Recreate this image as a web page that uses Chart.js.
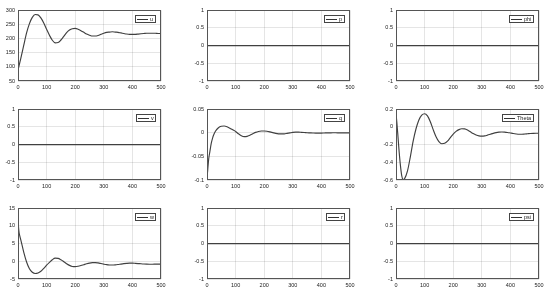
<!DOCTYPE html>
<html lang="en">
<head>
    <meta charset="UTF-8">
    <title>States</title>
    <script src="https://cdn.jsdelivr.net/npm/chart.js@4.4.0/dist/chart.umd.min.js"></script>
    <style>
        html, body { margin: 0; padding: 0; background: #fff; }
        body { width: 550px; height: 299px; position: relative; overflow: hidden; }
        canvas { position: absolute; }
    </style>
</head>
<body>
    <canvas id="c_u"></canvas>
    <canvas id="c_p"></canvas>
    <canvas id="c_phi"></canvas>
    <canvas id="c_v"></canvas>
    <canvas id="c_q"></canvas>
    <canvas id="c_theta"></canvas>
    <canvas id="c_w"></canvas>
    <canvas id="c_r"></canvas>
    <canvas id="c_psi"></canvas>

    <script>
        // time axes (s)
        const tZero = [0, 100, 200, 300, 400, 500];
        const tU = [0, 10, 20, 30, 40, 50, 60, 70, 80, 90, 100, 110, 120, 130, 140, 150, 160, 170, 180, 190, 200,
            210, 220, 230, 240, 250, 260, 270, 280, 290, 300, 310, 320, 330, 340, 350, 360, 370, 380, 390, 400,
            410, 420, 430, 440, 450, 460, 470, 480, 490, 500];
        const tQ = [0, 1, 3, 6, 10, 15, 20, 25, 30, 40, 50, 60, 70, 80, 90, 100, 110, 120, 130, 140, 150, 160, 170,
            180, 190, 200, 210, 220, 230, 240, 250, 260, 270, 280, 290, 300, 310, 320, 330, 340, 350, 360, 370,
            380, 390, 400, 410, 420, 430, 440, 450, 460, 470, 480, 490, 500];
        const tTheta = [0, 3, 6, 10, 15, 20, 25, 30, 40, 50, 60, 70, 80, 90, 100, 110, 120, 130, 140, 150, 160, 170,
            180, 190, 200, 210, 220, 230, 240, 250, 260, 270, 280, 290, 300, 310, 320, 330, 340, 350, 360, 370,
            380, 390, 400, 410, 420, 430, 440, 450, 460, 470, 480, 490, 500];
        const tW = [0, 2, 4, 6, 10, 20, 30, 40, 50, 60, 70, 80, 90, 100, 110, 120, 130, 140, 150, 160, 170,
            180, 190, 200, 210, 220, 230, 240, 250, 260, 270, 280, 290, 300, 310, 320, 330, 340, 350, 360, 370,
            380, 390, 400, 410, 420, 430, 440, 450, 460, 470, 480, 490, 500];

        // series
        const uVals = [88, 131, 176, 220, 253, 275, 285, 284, 273, 255, 233, 212, 194, 185, 186, 195, 208, 221, 230, 235, 236,
            233, 228, 222, 216, 212, 209, 209, 211, 215, 219, 222, 223, 224, 223, 222, 220, 218, 216, 215, 215,
            215, 216, 217, 218, 219, 219, 219, 219, 218, 218];
        const qVals = [0, -0.088, -0.075, -0.055, -0.04, -0.022, -0.01, -0.002, 0.004, 0.011, 0.014, 0.0145, 0.013, 0.01,
            0.0065, 0.003, -0.002, -0.006, -0.008, -0.0075, -0.005, -0.002, 0.001, 0.003, 0.004, 0.004, 0.0035, 0.002,
            0.0005, -0.001, -0.002, -0.0022, -0.002, -0.001, 0, 0.001, 0.0015, 0.0015, 0.0012, 0.0008, 0.0003, 0,
            -0.0003, -0.0005, -0.0005, -0.0004, -0.0002, 0, 0.0001, 0.0002, 0.0002, 0.0001, 0, 0, 0, 0];
        const thetaVals = [0.15, 0.05, -0.07, -0.24, -0.42, -0.55, -0.595, -0.585, -0.5, -0.34, -0.16, -0.02, 0.08, 0.135,
            0.15, 0.125, 0.06, -0.03, -0.11, -0.165, -0.19, -0.185, -0.16, -0.12, -0.08, -0.05, -0.03, -0.02, -0.022,
            -0.035, -0.055, -0.075, -0.09, -0.1, -0.103, -0.1, -0.092, -0.082, -0.072, -0.064, -0.059, -0.057, -0.058,
            -0.062, -0.068, -0.074, -0.079, -0.082, -0.082, -0.08, -0.077, -0.074, -0.072, -0.071, -0.071];
        const wVals = [12.5, 9.5, 8.0, 7.3, 6.0, 2.6, -0.2, -2.1, -3.1, -3.45, -3.3, -2.8, -2.0, -1.1, -0.3, 0.45, 0.9, 0.85,
            0.45, -0.1, -0.7, -1.15, -1.45, -1.5, -1.4, -1.2, -0.95, -0.7, -0.5, -0.38, -0.35, -0.45, -0.62, -0.8,
            -0.95, -1.03, -1.05, -1.0, -0.9, -0.78, -0.67, -0.58, -0.53, -0.53, -0.57, -0.63, -0.7, -0.76, -0.8,
            -0.82, -0.82, -0.8, -0.78, -0.8];
        const pVals = [0, 0, 0, 0, 0, 0];
        const phiVals = [0, 0, 0, 0, 0, 0];
        const vVals = [0, 0, 0, 0, 0, 0];
        const rVals = [0, 0, 0, 0, 0, 0];
        const psiVals = [0, 0, 0, 0, 0, 0];

        // y axis ranges [min, max, step]
        const yU = [50, 300, 50];
        const yUnit = [-1, 1, 0.5];
        const yQ = [-0.1, 0.05, 0.05];
        const yTheta = [-0.6, 0.2, 0.2];
        const yW = [-5, 15, 5];

        const FONT = { family: "'Liberation Sans', Arial, sans-serif", size: 5.5 };
        const colLeft = [18, 207, 396];
        const rowTop = [10, 109, 208];
        const PW = 143, PH = 71;
        const AX_W = 18, AX_H = 14, PAD_T = 6, PAD_R = 8;

        // box around axes + legend in the top right corner
        const boxLegend = {
            id: 'boxLegend',
            afterDatasetsDraw(chart) {
                const a = chart.chartArea;
                const c = chart.ctx;
                c.save();
                c.strokeStyle = '#555';
                c.lineWidth = 1;
                c.strokeRect(Math.round(a.left) + 0.5, Math.round(a.top) + 0.5,
                    Math.round(a.right - a.left) - 1, Math.round(a.bottom - a.top) - 1);

                const label = chart.data.datasets[0].label;
                c.font = FONT.size + 'px ' + FONT.family;
                const tw = c.measureText(label).width;
                const w = Math.round(2 + 11 + 2 + tw + 2.5);
                const h = 8;
                const x = Math.round(a.right - 5 - w);
                const y = Math.round(a.top + 5);
                c.fillStyle = '#fff';
                c.fillRect(x, y, w, h);
                c.strokeStyle = '#444';
                c.strokeRect(x + 0.5, y + 0.5, w - 1, h - 1);
                c.strokeStyle = '#333';
                c.beginPath();
                c.moveTo(x + 2, y + 4.5);
                c.lineTo(x + 13, y + 4.5);
                c.stroke();
                c.fillStyle = '#222';
                c.textBaseline = 'middle';
                c.fillText(label, x + 15, y + 4.5);
                c.restore();
            }
        };

        function plot(id, col, row, xs, ys, label, yr) {
            const el = document.getElementById(id);
            const W = AX_W + PW + PAD_R, H = PAD_T + PH + AX_H;
            el.width = W;
            el.height = H;
            el.style.left = (colLeft[col] - AX_W) + 'px';
            el.style.top = (rowTop[row] - PAD_T) + 'px';
            el.style.width = W + 'px';
            el.style.height = H + 'px';
            new Chart(el, {
                type: 'line',
                data: {
                    datasets: [{
                        label: label,
                        data: xs.map((x, i) => ({ x: x, y: ys[i] })),
                        borderColor: '#404040',
                        borderWidth: 1.15,
                        pointRadius: 0,
                        cubicInterpolationMode: 'monotone',
                        fill: false
                    }]
                },
                options: {
                    responsive: false,
                    animation: false,
                    devicePixelRatio: 1,
                    layout: { padding: { left: 0, top: PAD_T, right: PAD_R, bottom: 0 } },
                    plugins: { legend: { display: false }, tooltip: { enabled: false } },
                    scales: {
                        x: {
                            type: 'linear',
                            min: 0,
                            max: 500,
                            afterFit: s => { s.height = AX_H; },
                            grid: { color: 'rgba(0,0,0,0.1)', drawTicks: false },
                            border: { display: false },
                            ticks: { stepSize: 100, font: FONT, color: '#222', padding: 3, maxRotation: 0 }
                        },
                        y: {
                            min: yr[0],
                            max: yr[1],
                            afterFit: s => { s.width = AX_W; },
                            grid: { color: 'rgba(0,0,0,0.1)', drawTicks: false },
                            border: { display: false },
                            ticks: {
                                stepSize: yr[2], font: FONT, color: '#222', padding: 3,
                                callback: v => String(+Number(v).toFixed(4))
                            }
                        }
                    }
                },
                plugins: [boxLegend]
            });
        }

        plot('c_u', 0, 0, tU, uVals, 'u', yU);
        plot('c_p', 1, 0, tZero, pVals, 'p', yUnit);
        plot('c_phi', 2, 0, tZero, phiVals, 'phi', yUnit);
        plot('c_v', 0, 1, tZero, vVals, 'v', yUnit);
        plot('c_q', 1, 1, tQ, qVals, 'q', yQ);
        plot('c_theta', 2, 1, tTheta, thetaVals, 'Theta', yTheta);
        plot('c_w', 0, 2, tW, wVals, 'w', yW);
        plot('c_r', 1, 2, tZero, rVals, 'r', yUnit);
        plot('c_psi', 2, 2, tZero, psiVals, 'psi', yUnit);
    </script>
</body>
</html>
